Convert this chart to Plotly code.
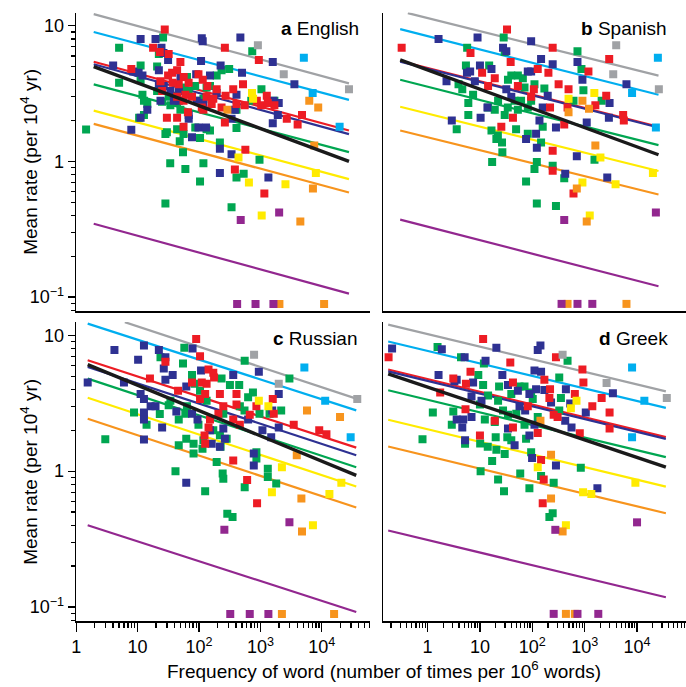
import plotly.graph_objects as go

# ---------------- data (frequency per 10^6 words, mean rate per 10^4 yr) ----------------
EN_GRAY = [(910, 7.2), (2400, 4.4), (27700, 3.4)]
EN_CYAN = [(5100, 5.8), (7100, 3.2), (19500, 1.8)]
EN_YELLOW = [(730, 3.2), (760, 2.9), (440, 1.07), (650, 0.70), (1050, 0.40), (2560, 0.68), (8000, 0.82)]
EN_ORANGE = [(290, 2.4), (6250, 2.8), (8740, 2.5), (7530, 1.31), (7170, 0.63), (4470, 0.36), (2040, 0.089), (10900, 0.089)]
EN_PURPLE = [(478, 0.37), (2020, 0.42), (418, 0.089), (833, 0.089), (1630, 0.089)]
EN_RED = [(27.7, 9.4), (264, 6.9), (943, 5.6), (17.9, 6.9), (23, 6.4), (32.1, 6.2), (7.9, 4.8), (49.8, 5.4), (44, 4.7),
          (36.5, 4.5), (31.4, 4.3), (56.3, 4.2), (46.8, 3.7), (37.3, 3.8), (67.8, 3.8), (98, 4.4), (115, 4.0), (137, 3.6),
          (194, 3.4), (271, 3.05), (361, 3.4), (521, 3.7), (875, 2.8), (1030, 2.6), (1270, 3.05), (1320, 2.7), (1690, 2.6),
          (2690, 2.06), (4760, 2.2), (4040, 1.87), (44, 3.0), (56, 2.8), (66, 2.3), (44, 2.1), (56, 1.8), (118, 2.4),
          (111, 2.5), (171, 2.9), (233, 2.5), (264, 1.94), (569, 1.22), (384, 0.87), (1160, 0.58), (30, 2.1), (60, 3.1),
          (77, 3.0), (133, 3.0), (161, 2.65), (408, 2.65), (555, 2.6), (23.6, 3.9), (25.1, 3.3)]
EN_BLUE = [(11.2, 8.0), (19.6, 8.0), (24.5, 6.9), (26.4, 6.3), (31.4, 5.6), (4.0, 5.1), (22.2, 4.7), (8.5, 4.6), (10.4, 4.5),
           (12.0, 4.3), (22.2, 3.7), (26.7, 3.6), (34.2, 3.3), (14.4, 2.4), (11.2, 2.1), (7.9, 1.71), (111, 8.1), (115, 7.7),
           (472, 8.2), (108, 5.5), (225, 5.1), (502, 4.5), (1590, 5.4), (3580, 3.7), (1990, 2.7), (1920, 2.2), (1590, 1.91),
           (1630, 2.8), (408, 3.1), (384, 2.4), (339, 2.06), (194, 3.2), (151, 4.3), (90, 4.4), (50, 4.2), (47, 3.3),
           (47, 2.8), (68, 2.2), (68, 2.06), (98, 1.78), (77, 1.51), (130, 1.78), (219, 1.24), (339, 1.13), (219, 0.82),
           (1350, 0.76), (92, 2.8), (118, 2.7), (23.6, 2.8), (39, 2.8)]
EN_GREEN = [(5.0, 6.9), (26, 8.2), (22.2, 6.2), (20.8, 5.0), (11.2, 5.1), (5.0, 3.8), (11.2, 4.0), (12.0, 3.1), (12.7, 2.8),
            (14.4, 2.65), (12.7, 2.2), (10.6, 2.1), (20.8, 3.3), (25, 2.75), (32.1, 3.0), (34.2, 2.6), (41.4, 3.05), (44, 2.7),
            (49.8, 2.4), (56.3, 3.5), (63.7, 4.2), (67.8, 3.3), (86.6, 3.6), (104, 2.8), (118, 2.9), (133, 3.5), (151, 3.6),
            (194, 4.3), (233, 4.7), (310, 4.8), (737, 6.5), (1040, 3.4), (1690, 2.8), (710, 2.8), (408, 2.4), (408, 1.76),
            (87, 1.78), (133, 1.73), (151, 1.69), (44, 1.73), (56, 1.59), (30, 1.64), (28.4, 1.59), (48.6, 1.41), (54.9, 1.17),
            (104, 1.49), (219, 1.38), (408, 0.76), (534, 0.81), (967, 1.03), (60, 0.88), (34, 0.97), (118, 0.97), (104, 0.71),
            (28.4, 0.49), (339, 0.46), (1.45, 1.72)]

ES_GRAY = [(4000, 7.2), (3510, 4.4), (26100, 3.4)]
ES_CYAN = [(25000, 5.8), (8040, 3.2), (22900, 1.78)]
ES_YELLOW = [(1530, 3.2), (492, 2.9), (2000, 1.07), (20100, 0.82), (3890, 0.68), (906, 0.70), (1250, 0.40)]
ES_ORANGE = [(906, 2.8), (492, 2.3), (1210, 2.45), (1600, 1.31), (708, 0.63), (1095, 0.36), (471, 0.089), (6280, 0.089)]
ES_PURPLE = [(22900, 0.42), (407, 0.37), (362, 0.089), (729, 0.089), (1400, 0.089)]
ES_RED = [(0.32, 6.9), (32.9, 9.4), (245, 6.9), (6.6, 6.3), (2940, 5.7), (38.6, 5.4), (1180, 4.6), (11.0, 4.5), (19.2, 4.1),
          (318, 3.7), (492, 3.4), (107, 3.4), (203, 4.5), (127, 4.8), (42.7, 2.1), (25.6, 1.8), (245, 1.2), (407, 1.87),
          (218, 2.5), (471, 2.5), (1600, 2.6), (2580, 3.05), (5430, 2.2), (5590, 2.0), (245, 0.855), (612, 0.58), (95, 3.0),
          (53, 3.6), (14.3, 3.6)]
ES_BLUE = [(1.62, 8.0), (9.0, 8.2), (27.6, 6.9), (95, 7.7), (31.9, 6.5), (147, 5.7), (245, 5.2), (729, 5.4), (906, 4.0),
           (5.65, 4.5), (6.5, 4.6), (10.0, 5.1), (16.6, 4.8), (82, 4.6), (95, 4.6), (2.3, 3.9), (8.0, 3.9), (13.9, 2.5),
           (10.3, 2.1), (2.9, 2.0), (31.9, 3.4), (39.7, 3.0), (158, 2.5), (197, 3.05), (76, 1.46), (122, 1.26), (708, 1.09),
           (283, 1.78), (1095, 1.94), (2900, 2.1), (2990, 2.7), (6280, 3.7), (2700, 0.76), (425, 0.81), (118, 1.6), (137, 2.0)]
ES_GREEN = [(5.7, 6.9), (28.4, 8.2), (29.7, 6.4), (729, 6.5), (868, 4.8), (946, 3.35), (612, 2.8), (2110, 2.8), (1540, 1.03),
            (407, 0.75), (5.4, 5.1), (15.0, 5.1), (3.9, 3.7), (4.6, 3.4), (7.4, 3.1), (6.0, 2.7), (6.0, 2.2), (3.6, 1.73),
            (14.3, 2.5), (19.2, 2.4), (22.2, 2.8), (29.7, 2.2), (34.3, 4.0), (39.7, 4.3), (53, 4.3), (66, 4.1), (71, 3.5),
            (110, 3.7), (170, 3.45), (95, 2.8), (82, 2.5), (61, 2.8), (49, 1.73), (82, 1.6), (22, 1.55), (16.6, 1.69),
            (20.6, 1.46), (26.4, 1.38), (26.8, 1.17), (17.1, 0.99), (76, 0.71), (122, 0.99), (110, 0.88), (147, 1.38),
            (245, 0.93), (122, 0.49), (283, 0.47), (158, 1.8), (53, 2.4), (34, 2.5), (46, 2.8)]

RU_GRAY = [(789, 7.2), (1990, 4.4), (37800, 3.4)]
RU_CYAN = [(5200, 5.8), (11350, 3.3), (29500, 1.78)]
RU_YELLOW = [(943, 3.3), (1350, 3.0), (2240, 1.07), (1540, 0.70), (13300, 0.68), (7170, 0.40), (20800, 0.82)]
RU_ORANGE = [(5740, 2.8), (19800, 2.5), (3910, 1.31), (4650, 0.63), (4760, 0.36), (2240, 0.089), (15850, 0.089)]
RU_PURPLE = [(259, 0.37), (2970, 0.42), (323, 0.089), (671, 0.089), (1350, 0.089)]
RU_RED = [(90, 9.4), (104, 7.0), (28.4, 6.4), (15.9, 4.8), (45.6, 3.9), (77, 4.5), (111, 4.5), (143, 5.6), (171, 5.3),
          (176, 4.9), (133, 4.4), (126, 3.7), (104, 3.4), (219, 3.7), (408, 3.7), (408, 3.1), (249, 3.0), (207, 2.65),
          (143, 2.1), (151, 2.4), (361, 2.4), (463, 2.2), (671, 2.6), (861, 3.0), (1590, 3.4), (1650, 2.65), (3490, 2.2),
          (9080, 2.0), (11900, 1.87), (361, 1.2), (608, 0.86), (883, 0.58), (126, 1.59), (123, 1.83)]
RU_BLUE = [(4.2, 7.8), (10.2, 6.6), (12.7, 8.4), (22.2, 7.8), (28.4, 6.9), (26.7, 5.7), (37.3, 5.1), (28.4, 4.7), (62.1, 4.2),
           (78.6, 8.0), (108, 5.5), (361, 5.1), (943, 5.4), (1990, 3.7), (1560, 2.8), (1080, 2.0), (1990, 2.1), (1500, 1.78),
           (780, 1.35), (780, 1.1), (94.7, 2.4), (77, 2.65), (151, 2.0), (161, 1.59), (25.1, 2.1), (11.2, 3.7), (12.7, 3.4),
           (16.3, 3.0), (19.6, 3.0), (1.54, 4.5), (6.0, 4.5), (12.7, 2.7), (12.7, 2.4), (12.7, 1.71), (42.8, 2.75),
           (62, 0.82), (249, 2.06), (264, 1.73), (219, 1.51), (631, 2.4)]
RU_GREEN = [(57.7, 8.1), (23.6, 6.9), (54.9, 6.2), (77, 5.1), (84.7, 4.4), (104, 3.9), (233, 4.8), (319, 4.3), (452, 4.3),
            (555, 6.5), (756, 3.8), (631, 3.5), (463, 3.0), (551, 2.8), (2180, 2.8), (2970, 4.8), (1410, 2.65), (967, 2.65),
            (2.98, 1.72), (8.75, 2.7), (14.0, 2.2), (23, 2.63), (32.1, 3.05), (34.2, 3.3), (46.8, 2.4), (59.9, 2.65),
            (62, 1.73), (46.8, 1.55), (81.6, 1.59), (81.6, 1.35), (114, 1.46), (118, 1.69), (194, 1.17), (225, 1.51),
            (282, 1.73), (249, 2.65), (243, 0.96), (249, 0.88), (555, 0.76), (1320, 1.04), (1320, 0.906), (1810, 0.81),
            (126, 0.71), (289, 0.486), (352, 0.46), (41.4, 1.0), (861, 1.38), (861, 1.24), (219, 1.84), (171, 2.0),
            (98, 2.2), (63.7, 3.0), (133, 3.3)]

GR_GRAY = [(379, 7.2), (2620, 4.45), (37000, 3.45)]
GR_CYAN = [(8040, 5.8), (13800, 3.3), (8040, 1.78)]
GR_YELLOW = [(698, 3.3), (545, 2.9), (127, 1.07), (9300, 0.82), (933, 0.70), (1340, 0.68), (438, 0.40)]
GR_ORANGE = [(143, 2.35), (228, 1.32), (228, 0.63), (379, 0.36), (438, 0.089), (649, 0.089)]
GR_PURPLE = [(10000, 0.42), (275, 0.37), (256, 0.089), (729, 0.089), (1820, 0.089)]
GR_RED = [(0.18, 6.9), (11.5, 9.4), (283, 6.9), (38, 6.3), (906, 5.6), (946, 4.5), (6.6, 5.4), (3.1, 4.8), (1.74, 3.8),
          (5.4, 4.4), (42.7, 4.5), (218, 4.0), (212, 3.45), (170, 4.7), (649, 3.7), (2110, 3.45), (1400, 3.0), (2990, 2.7),
          (2990, 2.06), (807, 1.9), (127, 1.91), (10.0, 1.83), (19.2, 2.35), (42.7, 2.1), (5.3, 2.85), (256, 2.6),
          (304, 2.5), (147, 1.21), (165, 0.87), (158, 0.58), (82, 3.0)]
GR_BLUE = [(0.21, 8.0), (1.87, 7.9), (20.6, 8.1), (127, 7.8), (143, 8.4), (5.1, 6.9), (12.8, 6.5), (110, 5.5), (147, 5.4),
           (1.62, 5.1), (26.8, 5.1), (3.6, 4.7), (7.4, 4.5), (3.25, 4.6), (6.9, 3.55), (34.3, 4.3), (53, 3.9), (88, 3.7),
           (118, 4.0), (228, 3.2), (170, 3.95), (438, 4.0), (529, 3.15), (1050, 2.7), (3460, 3.75), (425, 2.35), (561, 2.1),
           (3.6, 2.4), (4.8, 2.4), (4.6, 2.1), (5.2, 1.69), (34.3, 2.06), (45.9, 1.55), (88, 1.83), (110, 2.2), (73, 2.8),
           (99, 1.25), (283, 1.1), (1750, 0.75), (6.9, 2.5), (10.7, 3.3), (57, 3.0)]
GR_GREEN = [(1.55, 8.2), (4.35, 6.9), (11.9, 6.2), (9.3, 5.1), (471, 6.5), (327, 4.9), (11.5, 4.3), (23.2, 4.2), (57, 4.2),
            (71, 4.2), (95, 3.8), (39.7, 3.7), (22.2, 3.3), (14.3, 3.6), (10.0, 3.1), (3.1, 2.75), (1.26, 2.7), (2.9, 2.2),
            (5.2, 1.59), (10.1, 1.6), (14.1, 1.51), (20.6, 1.44), (29.7, 1.34), (20, 1.78), (33.3, 1.78), (39.7, 1.69),
            (76, 1.73), (95, 1.38), (17.1, 1.19), (10.3, 1.0), (22.2, 0.87), (28.8, 0.71), (88, 0.75), (58.8, 0.96),
            (147, 0.92), (256, 0.82), (245, 0.49), (212, 0.46), (843, 1.06), (0.80, 1.72), (19.2, 2.3), (34.3, 2.6),
            (71, 2.2), (127, 2.5), (327, 2.8), (352, 3.45), (102, 3.4), (49.4, 2.65), (27.6, 2.8), (12.4, 2.4)]

# regression lines: order of classes below; start/end frequency and rate
FIT_CLASSES = ['gray', 'cyan', 'red', 'blue', 'green', 'yellow', 'orange', 'purple', 'black']
EN_FIT_X0 = [1.93, 1.93, 1.93, 1.93, 1.93, 1.93, 1.93, 1.93, 1.93]
EN_FIT_X1 = [27700] * 9
EN_FIT_Y0 = [12.2, 9.0, 5.43, 5.2, 3.7, 2.37, 1.89, 0.347, 5.0]
EN_FIT_Y1 = [3.76, 2.84, 1.69, 1.59, 1.17, 0.74, 0.59, 0.106, 1.0]
ES_FIT_X0 = [0.42, 0.30, 0.30, 0.30, 0.30, 0.30, 0.30, 0.30, 0.30]
ES_FIT_X1 = [25700] * 9
ES_FIT_Y0 = [12.4, 9.45, 5.5, 5.43, 4.0, 2.53, 1.69, 0.372, 5.6]
ES_FIT_Y1 = [4.29, 3.1, 1.80, 1.78, 1.32, 0.85, 0.57, 0.12, 1.12]
RU_FIT_X0 = [6.2, 1.54, 1.54, 1.54, 1.54, 1.54, 1.54, 1.54, 1.54]
RU_FIT_X1 = [36400] * 9
RU_FIT_Y0 = [12.5, 12.2, 6.55, 5.85, 4.8, 3.47, 2.43, 0.40, 6.08]
RU_FIT_Y1 = [3.42, 2.8, 1.49, 1.31, 1.07, 0.77, 0.54, 0.092, 0.93]
GR_FIT_X0 = [0.177] * 9
GR_FIT_X1 = [35500] * 9
GR_FIT_Y0 = [12.0, 9.0, 5.6, 5.43, 3.94, 2.39, 1.52, 0.366, 5.2]
GR_FIT_Y1 = [3.87, 2.92, 1.78, 1.73, 1.27, 0.77, 0.49, 0.118, 1.07]

X_TICKS = [1, 10, 100, 1000, 10000]
X_TICK_TEXT = ['1', '10', '10<sup>2</sup>', '10<sup>3</sup>', '10<sup>4</sup>']
Y_TICKS = [0.1, 1, 10]
Y_TICK_TEXT = ['10<sup>\u22121</sup>', '1', '10']

# ---------------- style ----------------
COLORS = dict(gray='#A0A2A5', cyan='#00AEEF', red='#ED1C24', blue='#2E3192', green='#00A651',
              yellow='#FFEB00', orange='#F7941D', purple='#92278F', black='#1A1A1A')
FONT = 'Liberation Sans, Arial, sans-serif'
W, H = 686, 687

panels = [
    dict(letter='a', name='English', ax='', pts=dict(green=EN_GREEN, blue=EN_BLUE, red=EN_RED, yellow=EN_YELLOW,
         orange=EN_ORANGE, purple=EN_PURPLE, cyan=EN_CYAN, gray=EN_GRAY),
         fit=(EN_FIT_X0, EN_FIT_X1, EN_FIT_Y0, EN_FIT_Y1), lab=(359, 28)),
    dict(letter='b', name='Spanish', ax='2', pts=dict(green=ES_GREEN, blue=ES_BLUE, red=ES_RED, yellow=ES_YELLOW,
         orange=ES_ORANGE, purple=ES_PURPLE, cyan=ES_CYAN, gray=ES_GRAY),
         fit=(ES_FIT_X0, ES_FIT_X1, ES_FIT_Y0, ES_FIT_Y1), lab=(669, 28)),
    dict(letter='c', name='Russian', ax='3', pts=dict(green=RU_GREEN, blue=RU_BLUE, red=RU_RED, yellow=RU_YELLOW,
         orange=RU_ORANGE, purple=RU_PURPLE, cyan=RU_CYAN, gray=RU_GRAY),
         fit=(RU_FIT_X0, RU_FIT_X1, RU_FIT_Y0, RU_FIT_Y1), lab=(358, 338)),
    dict(letter='d', name='Greek', ax='4', pts=dict(green=GR_GREEN, blue=GR_BLUE, red=GR_RED, yellow=GR_YELLOW,
         orange=GR_ORANGE, purple=GR_PURPLE, cyan=GR_CYAN, gray=GR_GRAY),
         fit=(GR_FIT_X0, GR_FIT_X1, GR_FIT_Y0, GR_FIT_Y1), lab=(670, 338)),
]

fig = go.Figure()
for p in panels:
    xa, ya = 'x' + p['ax'], 'y' + p['ax']
    x0s, x1s, y0s, y1s = p['fit']
    # coloured fits under the points
    for i, cls in enumerate(FIT_CLASSES):
        if cls == 'black':
            continue
        fig.add_trace(go.Scatter(x=[x0s[i], x1s[i]], y=[y0s[i], y1s[i]], mode='lines',
                                 line=dict(color=COLORS[cls], width=2.2), xaxis=xa, yaxis=ya,
                                 hoverinfo='skip'))
    for cls, pts in p['pts'].items():
        fig.add_trace(go.Scatter(x=[q[0] for q in pts], y=[q[1] for q in pts], mode='markers',
                                 marker=dict(symbol='square', size=8, color=COLORS[cls], line=dict(width=0)),
                                 xaxis=xa, yaxis=ya))
    i = FIT_CLASSES.index('black')
    fig.add_trace(go.Scatter(x=[x0s[i], x1s[i]], y=[y0s[i], y1s[i]], mode='lines',
                             line=dict(color=COLORS['black'], width=3.4), xaxis=xa, yaxis=ya,
                             hoverinfo='skip'))

# minor tick positions
mult = [2, 3, 4, 5, 6, 7, 8, 9]
x_minor = [m * 10 ** e for e in range(-1, 5) for m in mult]
y_minor = [m * 10 ** e for e in range(-2, 1) for m in mult]

LX = [71.7 / W, 368 / W]
RX = [381 / W, 1.0]
TY = [1 - 311 / H, 1 - 12.5 / H]
BY = [1 - 621 / H, 1 - 322 / H]
XR_L = [0, 4.79]
XR_R = [-0.847, 4.935]
YR = [-1.103, 1.098]

tickfont = dict(family=FONT, size=18, color='black')


def xaxis(domain, rng, anchor, show):
    d = dict(type='log', domain=domain, range=rng, anchor=anchor, showline=True, linecolor='black',
             linewidth=1.5, showgrid=False, zeroline=False, fixedrange=True)
    if show:
        d.update(ticks='outside', ticklen=9, tickwidth=1.3, tickcolor='black', tickmode='array',
                 tickvals=X_TICKS, ticktext=X_TICK_TEXT, tickfont=tickfont,
                 minor=dict(ticks='outside', ticklen=5, tickwidth=1.3, tickcolor='black',
                            tickmode='array', tickvals=x_minor, showgrid=False))
    else:
        d.update(ticks='', showticklabels=False)
    return d


def yaxis(domain, anchor, show):
    d = dict(type='log', domain=domain, range=YR, anchor=anchor, showline=True, linecolor='black',
             linewidth=1.5, showgrid=False, zeroline=False, fixedrange=True)
    if show:
        d.update(ticks='outside', ticklen=7, tickwidth=1.3, tickcolor='black', tickmode='array',
                 tickvals=Y_TICKS, ticktext=Y_TICK_TEXT, tickfont=tickfont,
                 minor=dict(ticks='outside', ticklen=4, tickwidth=1.3, tickcolor='black',
                            tickmode='array', tickvals=y_minor, showgrid=False))
    else:
        d.update(ticks='', showticklabels=False)
    return d


annotations = []
for p in panels:
    annotations.append(dict(text='<b>%s</b> %s' % (p['letter'], p['name']), x=p['lab'][0] / W,
                            y=1 - p['lab'][1] / H, xref='paper', yref='paper', xanchor='right',
                            yanchor='middle', showarrow=False,
                            font=dict(family=FONT, size=19, color='black')))
for yc in (162, 472):
    annotations.append(dict(text='Mean rate (per 10<sup>4</sup> yr)', textangle=-90, x=24 / W, y=1 - yc / H,
                            xref='paper', yref='paper', xanchor='center', yanchor='middle', showarrow=False,
                            font=dict(family=FONT, size=19, color='black')))
annotations.append(dict(text='Frequency of word (number of times per 10<sup>6</sup> words)', x=382 / W,
                        y=1 - 670 / H, xref='paper', yref='paper', xanchor='center', yanchor='middle',
                        showarrow=False, font=dict(family=FONT, size=19, color='black')))

fig.update_layout(
    width=W, height=H, margin=dict(l=0, r=0, t=0, b=0), showlegend=False,
    paper_bgcolor='white', plot_bgcolor='white', hovermode=False,
    xaxis=xaxis(LX, XR_L, 'y', False), yaxis=yaxis(TY, 'x', True),
    xaxis2=xaxis(RX, XR_R, 'y2', False), yaxis2=yaxis(TY, 'x2', False),
    xaxis3=xaxis(LX, XR_L, 'y3', True), yaxis3=yaxis(BY, 'x3', True),
    xaxis4=xaxis(RX, XR_R, 'y4', True), yaxis4=yaxis(BY, 'x4', False),
    annotations=annotations,
)

fig.write_html('out.html', config={'displayModeBar': False, 'staticPlot': True},
               post_script="document.body.style.margin='0';document.body.style.overflow='hidden';")
